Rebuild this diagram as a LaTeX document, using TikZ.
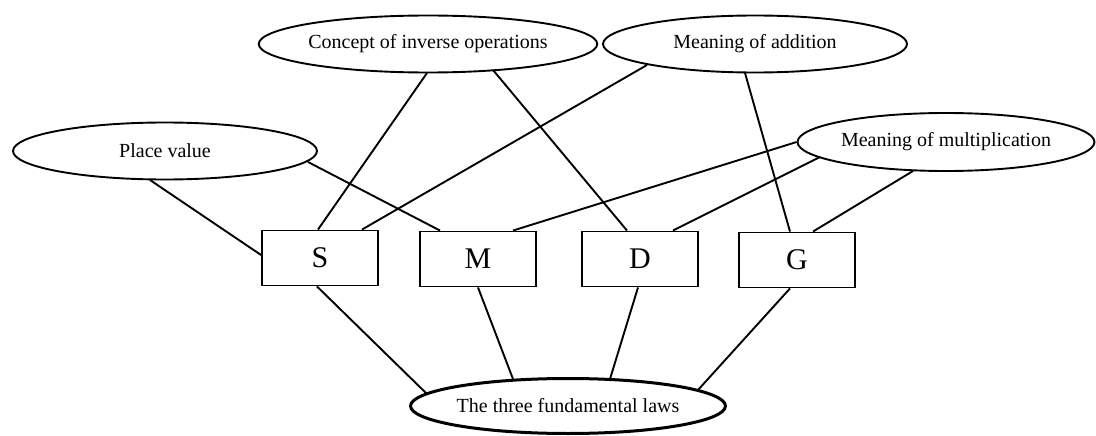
\documentclass[tikz,border=0pt]{standalone}
\usepackage{fontspec}
\setmainfont{Liberation Serif}
\usetikzlibrary{shapes.geometric,calc}
\begin{document}
\begin{tikzpicture}[x=1pt,y=-1pt,
  concept/.style={draw,ellipse,line width=1.9pt,inner sep=0pt,minimum width=304pt,minimum height=57pt,font=\fontsize{20}{22}\selectfont},
  lawbox/.style={draw,rectangle,line width=1.9pt,minimum width=116pt,minimum height=55pt,inner sep=0pt,font=\fontsize{30}{32}\selectfont},
  link/.style={line width=1.9pt}]
\useasboundingbox (0,0) rectangle (1096,436);
\fill[white] (0,0) rectangle (1096,436);
% ellipses
\node[concept] (con) at (428,44) {Concept of inverse operations};
\node[concept] (add) at (755,44) {Meaning of addition};
\node[concept] (pv) at (165,151) {Place value};
\node[concept,minimum width=294pt,minimum height=58pt] (mul) at (946,142) {Meaning of multiplication};
\node[concept,line width=3pt,minimum width=307pt,minimum height=55pt] (bot) at (568,406) {The three fundamental laws};
% boxes
\node[lawbox] (S) at (320,258) {S};
\node[lawbox] (M) at (478,259) {M};
\node[lawbox] (D) at (640,259) {D};
\node[lawbox] (G) at (797,260) {G};
% upper connectors
\draw[link] ($(pv.center)+(-15,29)$) -- ([yshift=3pt]S.west);
\draw[link] ($(pv.center)+(143,11)$) -- ([xshift=-38pt]M.north);
\draw[link] ($(con.center)+(-1,29)$) -- ([xshift=-2pt]S.north);
\draw[link] ($(con.center)+(65,26)$) -- ([xshift=-13pt]D.north);
\draw[link] ($(add.center)+(-108,21)$) -- ([xshift=42pt]S.north);
\draw[link] ($(add.center)+(-10,29)$) -- ([xshift=-7pt]G.north);
\draw[link] (mul.west) -- ([xshift=35pt]M.north);
\draw[link] ($(mul.center)+(-126,15)$) -- ([xshift=33pt]D.north);
\draw[link] ($(mul.center)+(-33,29)$) -- ([xshift=16pt]G.north);
% lower connectors
\draw[link] ([xshift=-3pt]S.south) -- ($(bot.center)+(-141,-12)$);
\draw[link] (M.south) -- ($(bot.center)+(-55,-27)$);
\draw[link] ([xshift=-2pt]D.south) -- ($(bot.center)+(42,-27)$);
\draw[link] ([xshift=-7pt]G.south) -- ($(bot.center)+(130,-16)$);
\end{tikzpicture}
\end{document}
